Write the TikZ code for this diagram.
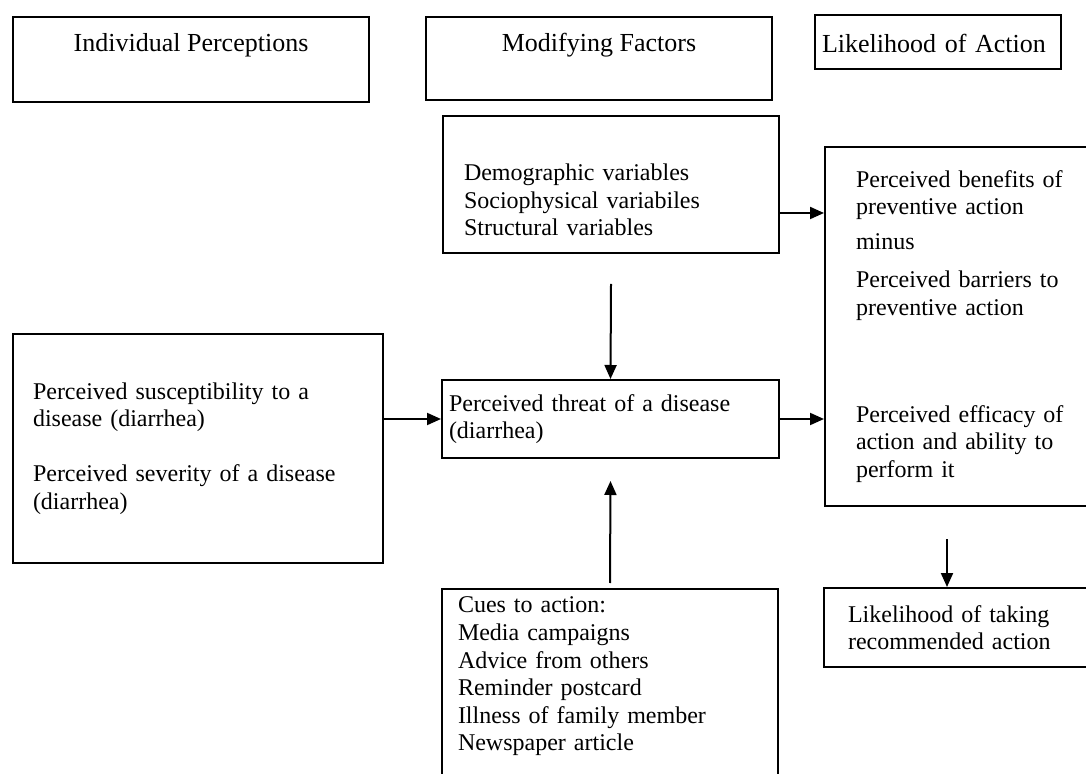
\documentclass[tikz,border=0pt]{standalone}
\usepackage{fontspec}
\setmainfont{Liberation Serif}
\usetikzlibrary{arrows.meta,calc}

\begin{document}
\begin{tikzpicture}[x=0.5pt, y=-0.5pt,
    >={Triangle[length=7pt, width=6pt]},
    box/.style={draw, line width=1pt, inner ysep=0pt, anchor=north west,
      align=left, font=\fontsize{12}{13.8}\selectfont},
    head/.style={draw, line width=1pt, inner xsep=0pt, inner ysep=0pt,
      anchor=north west, font=\fontsize{13}{15.6}\selectfont},
    link/.style={->, line width=1pt}]
  \useasboundingbox (0,0) rectangle (1086,774);
  \clip (0,0) rectangle (1086,774);
  % column headings
  \node[head, minimum width=178pt, text height=17.5pt, text depth=25pt]
    (perc) at (12,16) {Individual Perceptions};
  \node[head, minimum width=173pt, text height=17.5pt, text depth=24pt]
    (modif) at (425,16) {Modifying Factors};
  \node[head, text width=116pt, inner xsep=3.5pt, text height=18.75pt, text depth=8.25pt]
    (likely) at (814,14) {Likelihood of Action};
  % modifying factors
  \node[box, text width=147pt, inner xsep=10.5pt, minimum height=68.5pt] (demo) at (442,115)
    {\rule{0pt}{24pt}Demographic variables\\ Sociophysical variabiles\\ Structural variables};
  \node[box, text width=161.5pt, inner xsep=3.5pt, minimum height=39pt] (threat) at (441,379)
    {Perceived threat of a disease\\ (diarrhea)};
  \node[box, text width=152pt, inner xsep=8pt, inner ysep=4pt] (cues) at (441,588)
    {Cues to action:\\ Media campaigns\\ Advice from others\\ Reminder postcard\\
     Illness of family member\\ Newspaper article\\ \mbox{}};
  % individual perceptions
  \node[box, text width=165pt, inner xsep=10pt, minimum height=114.5pt] (suscept) at (12,333)
    {Perceived susceptibility to a\\ disease (diarrhea)\\[13.8pt]
     Perceived severity of a disease\\ (diarrhea)};
  % likelihood of action
  \node[box, text width=112pt, inner xsep=15.5pt, minimum height=179.5pt] (benefit) at (824,146)
    {Perceived benefits of\\ preventive action\\[3.7pt] minus\\[5.2pt]
     Perceived barriers to\\ preventive action\\[39.7pt]
     Perceived efficacy of\\ action and ability to\\ perform it};
  \node[box, text width=119.5pt, inner xsep=12pt, minimum height=39.5pt] (taking) at (823,587)
    {Likelihood of taking\\ recommended action};
  % arrows into the threat box
  \draw[link] (threat.west -| suscept.east) -- (threat.west);
  \draw[link] ($(demo.south)+(0,30)$) -- (threat.north);
  \draw[link] ($(cues.north)+(0,-5)$) -- ($(threat.south)+(0,22)$);
  % arrows into the likelihood column
  \coordinate (demo-out) at ($(demo.east)+(0,28.5)$);
  \draw[link] (demo-out) -- (demo-out -| benefit.west);
  \draw[link] (threat.east) -- (threat.east -| benefit.west);
  \coordinate (benefit-out) at ($(benefit.south)+(-21,32)$);
  \draw[link] (benefit-out) -- (benefit-out |- taking.north);
\end{tikzpicture}
\end{document}
